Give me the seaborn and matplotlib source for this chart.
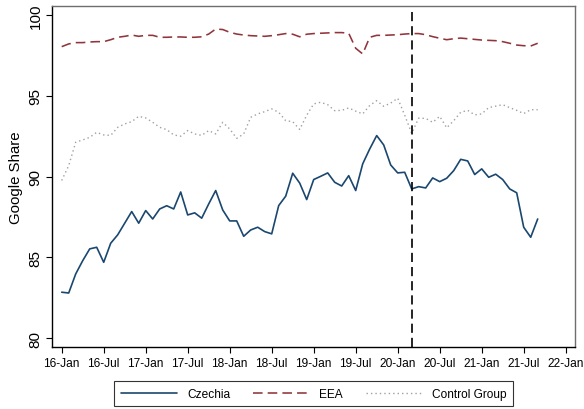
import numpy as np
import pandas as pd
import matplotlib
matplotlib.use("Agg")
import matplotlib.pyplot as plt
from matplotlib.lines import Line2D
import seaborn as sns

# Monthly Google search share, January 2016 onwards
start_month = "2016-01"
czechia = [82.85, 82.8, 83.98, 84.8, 85.53, 85.63, 84.7, 85.88, 86.4, 87.12,
           87.84, 87.12, 87.9, 87.38, 88.0, 88.2, 88.0, 89.05, 87.63, 87.76,
           87.43, 88.31, 89.14, 87.94, 87.26, 87.26, 86.31, 86.7, 86.87, 86.6,
           86.46, 88.21, 88.79, 90.21, 89.6, 88.58, 89.82, 90.02, 90.23, 89.65,
           89.42, 90.06, 89.14, 90.79, 91.71, 92.54, 91.96, 90.72, 90.23, 90.27,
           89.24, 89.38, 89.3, 89.92, 89.69, 89.9, 90.37, 91.07, 90.97, 90.13,
           90.48, 89.96, 90.15, 89.82, 89.24, 89.0, 86.87, 86.25, 87.38]
eea = [98.04, 98.21, 98.29, 98.29, 98.33, 98.35, 98.35, 98.47, 98.62, 98.68,
       98.76, 98.68, 98.74, 98.74, 98.62, 98.62, 98.64, 98.64, 98.62, 98.62,
       98.65, 98.82, 99.13, 99.1, 98.93, 98.82, 98.76, 98.72, 98.70, 98.68,
       98.72, 98.78, 98.85, 98.81, 98.65, 98.81, 98.85, 98.87, 98.89, 98.91,
       98.91, 98.87, 97.94, 97.59, 98.62, 98.74, 98.74, 98.76, 98.78, 98.82,
       98.85, 98.85, 98.78, 98.66, 98.56, 98.47, 98.53, 98.57, 98.53, 98.49,
       98.45, 98.43, 98.41, 98.35, 98.25, 98.14, 98.1, 98.08, 98.25]
control = [89.76, 90.68, 92.13, 92.27, 92.43, 92.74, 92.58, 92.55, 93.05, 93.26,
           93.4, 93.73, 93.63, 93.36, 93.05, 92.91, 92.58, 92.5, 92.85, 92.64,
           92.55, 92.85, 92.64, 93.36, 92.95, 92.37, 92.64, 93.67, 93.88, 94.02,
           94.19, 93.98, 93.46, 93.4, 92.92, 93.8, 94.5, 94.6, 94.45, 94.08,
           94.1, 94.25, 94.05, 93.88, 94.4, 94.7, 94.35, 94.55, 94.85, 93.8,
           92.68, 93.62, 93.6, 93.36, 93.73, 93.02, 93.46, 93.98, 94.1, 93.82,
           93.88, 94.27, 94.36, 94.45, 94.27, 94.1, 93.9, 94.14, 94.14]
series_names = ["Czechia", "EEA", "Control Group"]
event_month = "2020-03"

tick_labels = ["16-Jan", "16-Jul", "17-Jan", "17-Jul", "18-Jan", "18-Jul",
               "19-Jan", "19-Jul", "20-Jan", "20-Jul", "21-Jan", "21-Jul",
               "22-Jan"]
y_ticks = [80, 85, 90, 95, 100]

# month offsets from the first observation
periods = pd.period_range(start_month, periods=len(czechia), freq="M")
t0 = pd.Period(start_month, freq="M")
month_idx = np.array([(p - t0).n for p in periods])
event_idx = (pd.Period(event_month, freq="M") - t0).n

df = pd.DataFrame({
    "month": np.tile(month_idx, 3),
    "share": czechia + eea + control,
    "series": np.repeat(series_names, len(czechia)),
})

sns.set_style("white")
plt.rcParams["font.family"] = ["Liberation Sans", "DejaVu Sans"]
plt.rcParams.update({"text.color": "black", "axes.labelcolor": "black",
                     "xtick.color": "black", "ytick.color": "black"})

fig = plt.figure(figsize=(5.84, 4.10), dpi=100)
ax = fig.add_axes([0.0896, 0.1512, 0.895, 0.8325])

colors = {"Czechia": "#1a476f", "EEA": "#90353b", "Control Group": "#a0a0a0"}
styles = {"Czechia": "-", "EEA": (0, (6, 3.2)), "Control Group": (0, (1, 2.2))}
widths = {"Czechia": 1.2, "EEA": 1.15, "Control Group": 1.0}

for name in series_names:
    sub = df[df["series"] == name]
    sns.lineplot(data=sub, x="month", y="share", ax=ax, color=colors[name],
                 linewidth=widths[name], linestyle=styles[name], legend=False,
                 errorbar=None)

ax.axvline(event_idx, color="black", linewidth=1.2, linestyle=(0, (5.5, 3)))

ax.set_xlim(-1.34, 73.33)
ax.set_ylim(79.46, 100.575)
ax.set_xticks(np.arange(0, 6 * len(tick_labels), 6))
ax.set_xticklabels(tick_labels, fontsize=8.6)
ax.set_yticks(y_ticks)
ax.set_yticklabels([str(v) for v in y_ticks], fontsize=11, rotation=90,
                   va="center")
ax.set_xlabel("")
ax.set_ylabel("Google Share", fontsize=10.8, labelpad=4)
ax.tick_params(axis="both", direction="out", length=4, width=0.8,
               color="black", bottom=True, left=True)
ax.tick_params(axis="x", pad=3)
ax.tick_params(axis="y", pad=3)

for side in ["left", "bottom"]:
    ax.spines[side].set_color("black")
    ax.spines[side].set_linewidth(1.0)
for side in ["top", "right"]:
    ax.spines[side].set_color("#6e6e6e")
    ax.spines[side].set_linewidth(1.0)

handles = [Line2D([], [], color=colors[n], linewidth=widths[n],
                  linestyle=styles[n]) for n in series_names]
leg = fig.legend(handles, series_names, loc="center",
                 bbox_to_anchor=(0.537, 0.037), ncol=3, fontsize=8.6,
                 frameon=True, fancybox=False, handlelength=4.7,
                 handletextpad=0.85, columnspacing=1.9, borderpad=0.55)
leg.get_frame().set_edgecolor("black")
leg.get_frame().set_linewidth(0.8)

fig.savefig("out.png", dpi=100, facecolor="white")
